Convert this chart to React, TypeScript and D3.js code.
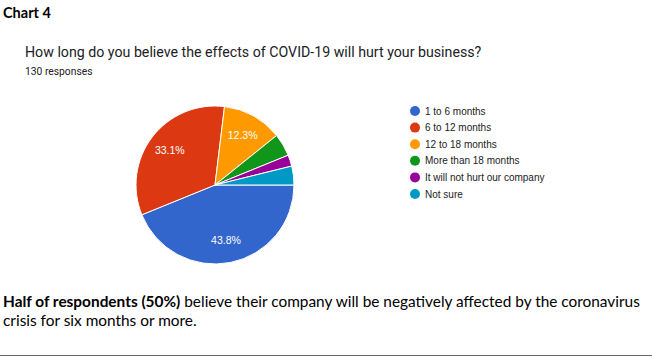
import React from "react";
import * as d3 from "d3";

const categories = [
  "1 to 6 months",
  "6 to 12 months",
  "12 to 18 months",
  "More than 18 months",
  "It will not hurt our company",
  "Not sure",
];
const counts = [57, 43, 16, 6, 3, 5];
const colors = ["#3366cc", "#dc3912", "#ff9900", "#109618", "#990099", "#0099c6"];

const W = 652;
const H = 363;

export default function App() {
  const cx = 215;
  const cy = 185;
  const r = 79;
  const total = d3.sum(counts);
  const pie = d3
    .pie<number>()
    .sort(null)
    .startAngle(Math.PI / 2)
    .endAngle(Math.PI / 2 + 2 * Math.PI)(counts);
  const arc = d3.arc<d3.PieArcDatum<number>>().innerRadius(0).outerRadius(r);
  const labelArc = d3
    .arc<d3.PieArcDatum<number>>()
    .innerRadius(r * 0.72)
    .outerRadius(r * 0.72);
  const legendY = d3.scalePoint<string>().domain(categories).range([111, 194]);

  return (
    <div style={{ position: "absolute", left: 0, top: 0 }}>
      <svg width={W} height={H} style={{ display: "block", background: "#fff" }}>
        <text x={3} y={18} fontFamily="Lato, 'Open Sans', sans-serif" fontWeight="bold" fontSize={14.5} fill="#000">
          Chart 4
        </text>
        <text x={25} y={57} fontFamily="Roboto, 'Open Sans', sans-serif" fontSize={14.2} fill="#202124">
          How long do you believe the effects of COVID-19 will hurt your business?
        </text>
        <text x={25} y={75} fontFamily="Roboto, sans-serif" fontSize={10.3} fill="#202124">
          130 responses
        </text>
        <g transform={`translate(${cx},${cy})`}>
          {pie.map((d, i) => (
            <path key={i} d={arc(d) || ""} fill={colors[i]} stroke="#fff" strokeWidth={1} />
          ))}
          {pie.map((d, i) => {
            const pct = (d.data / total) * 100;
            if (pct < 10) return null;
            const [lx, ly] = labelArc.centroid(d);
            return (
              <text
                key={"l" + i}
                x={lx}
                y={ly}
                dy="0.35em"
                textAnchor="middle"
                fontFamily="Arial, 'Liberation Sans', sans-serif"
                fontSize={10.5}
                fill="#fff"
              >
                {pct.toFixed(1)}%
              </text>
            );
          })}
        </g>
        {categories.map((c, i) => (
          <g key={c} transform={`translate(415,${legendY(c)})`}>
            <circle r={5} fill={colors[i]} />
            <text x={10} dy="0.35em" fontFamily="Arial, 'Liberation Sans', sans-serif" fontSize={10} fill="#222">
              {c}
            </text>
          </g>
        ))}
        <text x={3} y={307} fontFamily="Lato, 'Open Sans', sans-serif" fontSize={15.4} fill="#000">
          <tspan fontWeight="bold">Half of respondents (50%)</tspan> believe their company will be negatively affected by the coronavirus
        </text>
        <text x={3} y={326} fontFamily="Lato, 'Open Sans', sans-serif" fontSize={15.4} fill="#000">
          crisis for six months or more.
        </text>
        <line x1={0} x2={652} y1={355.5} y2={355.5} stroke="#666" strokeWidth={1} />
      </svg>
    </div>
  );
}
